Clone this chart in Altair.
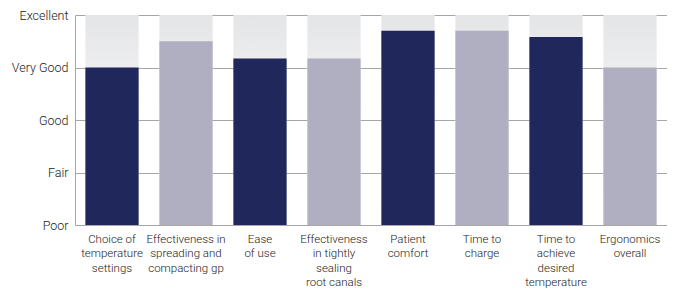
import altair as alt
import pandas as pd

categories = [
    "Choice of|temperature|settings",
    "Effectiveness in|spreading and|compacting gp",
    "Ease|of use",
    "Effectiveness|in tightly|sealing|root canals",
    "Patient|comfort",
    "Time to|charge",
    "Time to|achieve|desired|temperature",
    "Ergonomics|overall",
]
scores = [3.0, 3.5, 3.17, 3.17, 3.7, 3.7, 3.58, 3.0]
groups = ["a", "b", "a", "b", "a", "b", "a", "b"]
rating_labels = ["Poor", "Fair", "Good", "Very Good", "Excellent"]
max_score = 4

df = pd.DataFrame({"cat": categories, "score": scores, "group": groups,
                   "full": [max_score] * len(categories)})

FONT = "Roboto"

x = alt.X("cat:N", sort=categories, title=None,
          scale=alt.Scale(paddingInner=0.28, paddingOuter=0.14),
          axis=alt.Axis(labelAngle=0, labelExpr="split(datum.label, '|')",
                        labelFont=FONT, labelFontSize=11.5, labelFontWeight=300,
                        labelColor="#1a1a1a",
                        labelLineHeight=14.5, labelPadding=8, labelBaseline="top",
                        domain=False, ticks=False, grid=False))

y_axis = alt.Axis(values=[0, 1, 2, 3, 4],
                  labelExpr="['Poor','Fair','Good','Very Good','Excellent'][datum.value]",
                  labelFont=FONT, labelFontSize=12.5, labelFontWeight=300,
                  labelColor="#1a1a1a",
                  labelPadding=7, ticks=False, domain=True, domainColor="#a6a6a6",
                  gridColor="#a6a6a6", gridWidth=1, title=None)

bg = alt.Chart(df).mark_bar(
    color=alt.Gradient(gradient="linear",
                       stops=[alt.GradientStop(color="#e4e5e7", offset=0),
                              alt.GradientStop(color="#f4f4f5", offset=0.45),
                              alt.GradientStop(color="#f9f9f9", offset=1)],
                       x1=1, x2=1, y1=0, y2=1)
).encode(x=x, y=alt.Y("full:Q", scale=alt.Scale(domain=[0, 4], nice=False), axis=y_axis))

bars = alt.Chart(df).mark_bar().encode(
    x=x,
    y=alt.Y("score:Q", scale=alt.Scale(domain=[0, 4], nice=False)),
    color=alt.Color("group:N", scale=alt.Scale(domain=["a", "b"], range=["#20275a", "#b0aec1"]),
                    legend=None),
)

chart = alt.layer(bg, bars).properties(
    width=592, height=210,
    autosize=alt.AutoSizeParams(type="none"),
    padding={"left": 67, "top": 7, "right": 0, "bottom": 76},
).configure_view(stroke=None).configure_axis(gridColor="#a6a6a6")

chart.save("out.html", embed_options={"renderer": "svg", "actions": False})
